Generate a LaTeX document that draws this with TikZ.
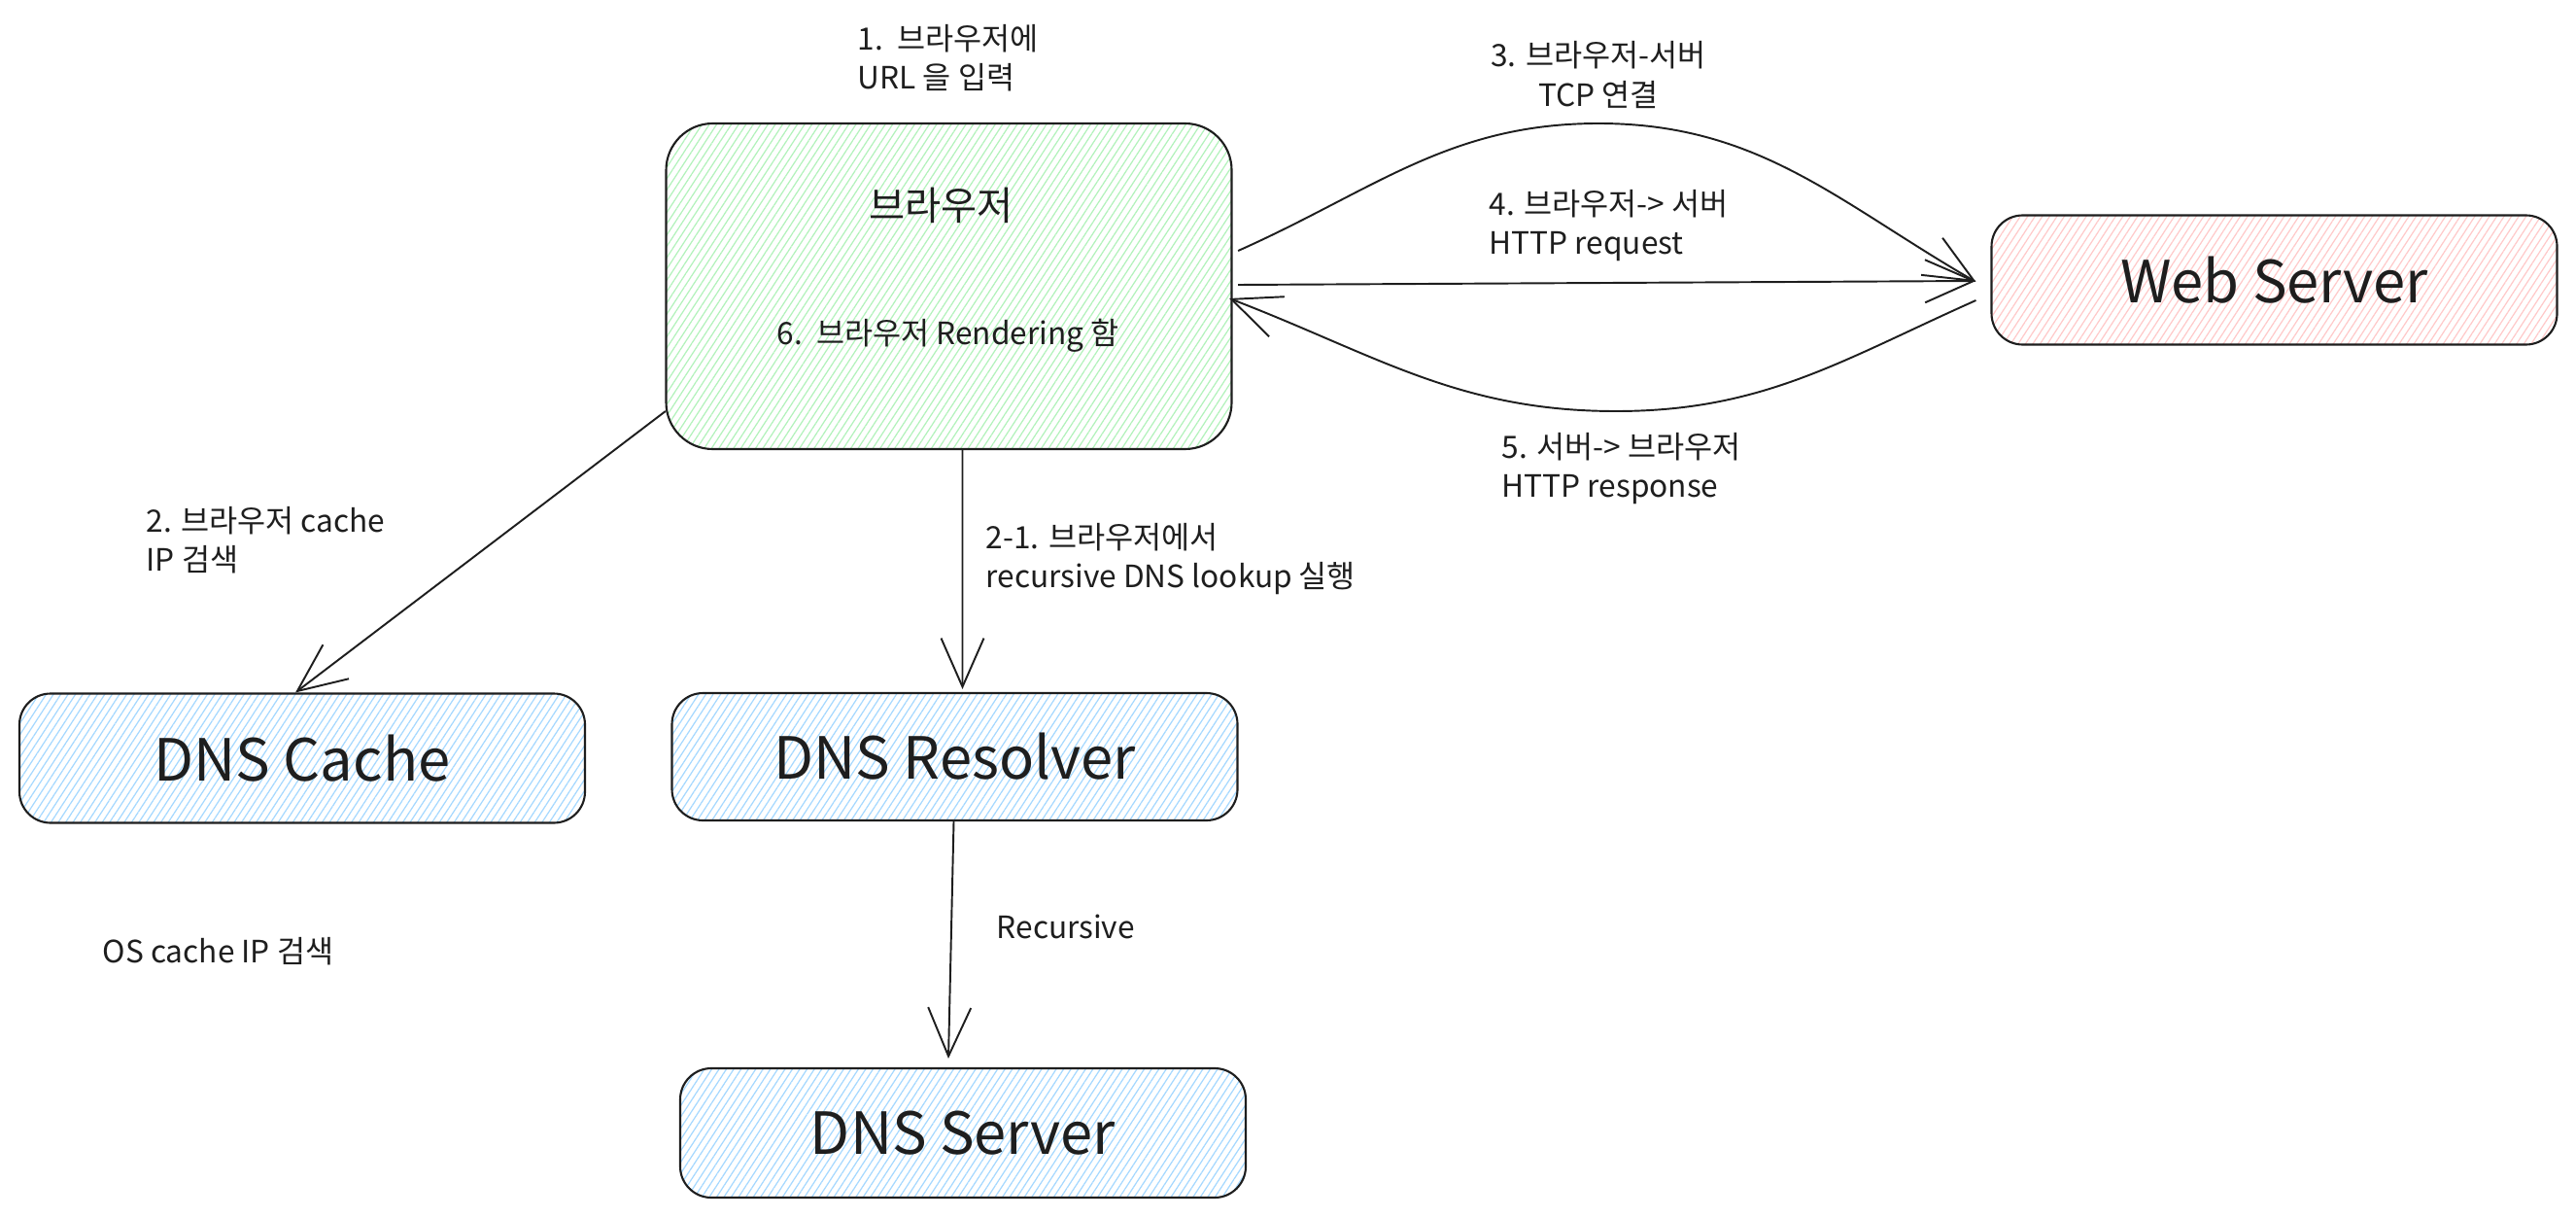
\documentclass[tikz,border=0pt]{standalone}
\usepackage{fontspec}
\setmainfont{Noto Sans CJK KR}
\usepackage{tikz}
\usetikzlibrary{arrows.meta,patterns.meta}
\definecolor{exink}{HTML}{1E1E1E}
\definecolor{exgreen}{HTML}{B2F2BB}
\definecolor{exblue}{HTML}{A5D8FF}
\definecolor{exred}{HTML}{FFC9C9}
\tikzstyle{box} = [draw=exink, line width=0.6pt, rounded corners=0.32cm, minimum width=5.82cm, minimum height=1.33cm, text=exink, font=\fontsize{17}{20}\selectfont]
\tikzstyle{hatch} = [pattern={Lines[angle=57,distance=1.8pt,line width=0.35pt]}]
\tikzstyle{arrow} = [line width=0.55pt, draw=exink, -{Straight Barb[length=5mm,width=4.4mm]}]
\tikzstyle{note} = [text=exink, inner sep=0pt, align=left, font=\fontsize{9}{11.4}\selectfont]

\begin{document}
\begin{tikzpicture}
\useasboundingbox (0,0) rectangle (26.51,12.52);

% Browser
\node[box, hatch, pattern color=exgreen, minimum height=3.35cm, rounded corners=0.48cm] (browser) at (9.765,9.575) {};
\node[text=exink, font=\fontsize{11.5}{14}\selectfont] (browsertitle) at (9.685,10.41) {브라우저};
\node[note] (step6) at (9.755,9.07) {6.\ \ 브라우저 Rendering 함};

% Servers and DNS side
\node[box, hatch, pattern color=exred] (webserver) at (23.405,9.64) {Web Server};
\node[box, hatch, pattern color=exblue] (dnscache) at (3.11,4.72) {DNS Cache};
\node[box, hatch, pattern color=exblue, minimum height=1.31cm] (resolver) at (9.825,4.735) {DNS Resolver};
\node[box, hatch, pattern color=exblue] (dnsserver) at (9.91,0.865) {DNS Server};

% Step labels
\node[note, anchor=west] (step1) at (8.82,11.925) {1.\ \ 브라우저에\\URL 을 입력};
\node[note, align=center] (step3) at (16.45,11.75) {3. 브라우저-서버\\TCP 연결};
\node[note, anchor=west] (step4) at (15.32,10.195) {4. 브라우저-> 서버\\HTTP request};
\node[note, anchor=west] (step5) at (15.45,7.695) {5. 서버-> 브라우저\\HTTP response};
\node[note, anchor=west] (step2) at (1.50,6.965) {2. 브라우저 cache\\IP 검색};
\node[note, anchor=west] (step21) at (10.14,6.77) {2-1. 브라우저에서\\recursive DNS lookup 실행};
\node[note, anchor=west] (recursive) at (10.25,2.99) {Recursive};
\node[note, anchor=west] (oscache) at (1.05,2.73) {OS cache IP 검색};

% Browser <-> Web Server
\coordinate (tcppeak) at (16.45,11.25);
\coordinate (resptrough) at (16.63,8.29);
\draw[arrow] ([xshift=0.6mm,yshift=3.65mm]browser.east) to[out=24,in=180] (tcppeak) to[out=0,in=150] ([xshift=-1.5mm,yshift=-0.2mm]webserver.west);
\draw[arrow] ([xshift=0.6mm,yshift=0.15mm]browser.east) -- ([xshift=-1.5mm,yshift=-0.1mm]webserver.west);
\draw[arrow] ([xshift=-1.5mm,yshift=-2.1mm]webserver.west) to[out=204,in=0] (resptrough) to[out=180,in=-21] ([xshift=-0.3mm,yshift=-1.25mm]browser.east);

% DNS lookups
\draw[arrow] ([yshift=-12.85mm]browser.west) -- ([xshift=-0.7mm]dnscache.north);
\draw[arrow] ([xshift=1.4mm]browser.south) -- ([xshift=0.8mm,yshift=0.3mm]resolver.north);
\draw[arrow] ([xshift=-0.1mm]resolver.south) -- ([xshift=-1.5mm,yshift=0.9mm]dnsserver.north);
\end{tikzpicture}
\end{document}
